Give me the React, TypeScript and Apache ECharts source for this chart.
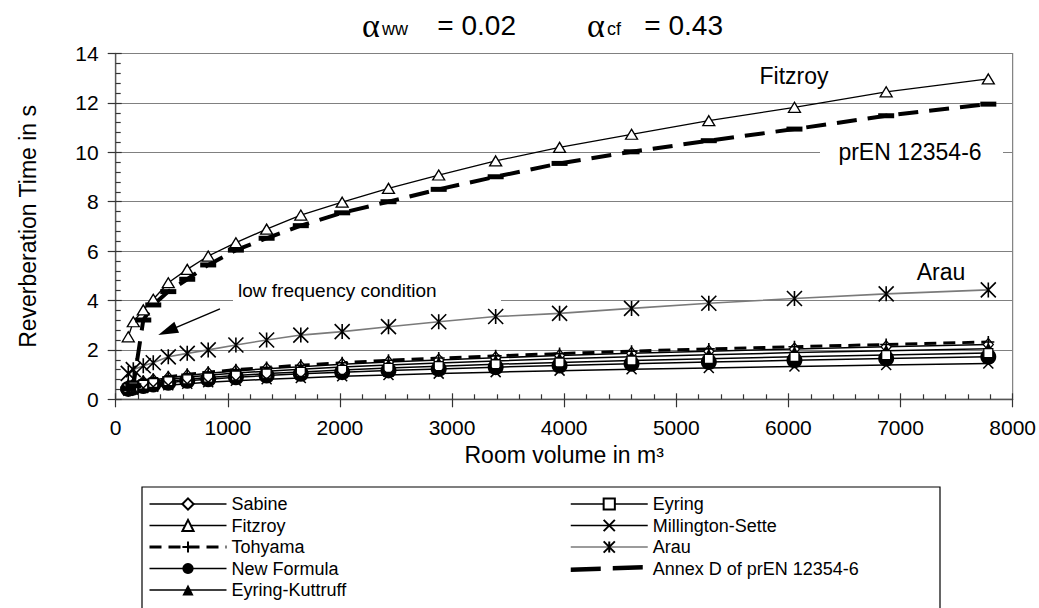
import React, { useEffect, useRef } from "react";
import * as echarts from "echarts";

const volumes = [112, 157, 246, 335, 469, 638, 825, 1072, 1346, 1651, 2020, 2433, 2881, 3389, 3959, 4601, 5290, 6054, 6872, 7783];
const sabine = [0.54, 0.6, 0.7, 0.78, 0.87, 0.96, 1.05, 1.15, 1.24, 1.32, 1.42, 1.51, 1.59, 1.68, 1.77, 1.86, 1.95, 2.04, 2.13, 2.22];
const fitzroy = [2.53, 3.14, 3.62, 4.05, 4.72, 5.26, 5.8, 6.34, 6.89, 7.46, 7.98, 8.54, 9.08, 9.65, 10.2, 10.73, 11.28, 11.82, 12.45, 12.97];
const tohyama = [0.56, 0.63, 0.73, 0.81, 0.91, 1.01, 1.1, 1.2, 1.29, 1.38, 1.48, 1.58, 1.67, 1.76, 1.85, 1.95, 2.04, 2.13, 2.22, 2.32];
const newFormula = [0.42, 0.47, 0.54, 0.6, 0.67, 0.75, 0.81, 0.89, 0.96, 1.03, 1.1, 1.17, 1.23, 1.3, 1.37, 1.44, 1.51, 1.58, 1.65, 1.72];
const eyringKuttruff = [0.5, 0.56, 0.65, 0.72, 0.8, 0.89, 0.97, 1.06, 1.14, 1.22, 1.31, 1.39, 1.47, 1.55, 1.64, 1.72, 1.8, 1.89, 1.97, 2.05];
const eyring = [0.45, 0.51, 0.59, 0.66, 0.73, 0.81, 0.88, 0.96, 1.04, 1.11, 1.19, 1.27, 1.34, 1.42, 1.49, 1.57, 1.64, 1.72, 1.79, 1.87];
const millingtonSette = [0.35, 0.39, 0.46, 0.51, 0.57, 0.63, 0.69, 0.75, 0.81, 0.86, 0.93, 0.98, 1.04, 1.1, 1.16, 1.22, 1.27, 1.33, 1.39, 1.45];
const arau = [1.05, 1.2, 1.36, 1.48, 1.72, 1.86, 2.0, 2.2, 2.4, 2.6, 2.74, 2.94, 3.14, 3.35, 3.48, 3.68, 3.89, 4.08, 4.27, 4.43];
const annexD = [0.42, 0.55, 3.21, 3.82, 4.36, 4.86, 5.44, 6.04, 6.52, 7.03, 7.55, 8.0, 8.5, 9.01, 9.55, 10.02, 10.47, 10.94, 11.48, 11.95];

const legendLeft = ["Sabine", "Fitzroy", "Tohyama", "New Formula", "Eyring-Kuttruff"];
const legendRight = ["Eyring", "Millington-Sette", "Arau", "Annex D of prEN 12354-6"];

const FONT = "'Liberation Sans', Arial, Helvetica, sans-serif";

const pairs = (ys: number[]) => volumes.map((v, i) => [v, ys[i]]);

const PLUS = "path://M5,0L5,10M0,5L10,5";
const CROSS = "path://M0,0L10,10M10,0L0,10";
const STAR = "path://M5,0L5,10M0,0L10,10M10,0L0,10";
const DASH_ICON = "path://M0,0M77,14M0,6L30,5L30,9.5L0,10.5ZM42,4.5L72,3.5L72,8L42,9Z";

export default function App() {
  const ref = useRef<HTMLDivElement>(null);
  useEffect(() => {
    document.body.style.margin = "0";
    if (!ref.current) return;
    const chart = echarts.init(ref.current, null, { renderer: "svg" });
    const black = "#000";
    const openStyle = { color: "#fff", borderColor: black, borderWidth: 1.3 };
    const solidLine = { color: black, width: 1.5, type: "solid" };
    const base = { type: "line", xAxisIndex: 0, yAxisIndex: 0, showSymbol: true, emphasis: { disabled: true }, silent: true };
    const series: any[] = [
      { ...base, name: "Sabine", data: pairs(sabine), symbol: "diamond", symbolSize: [10, 12], itemStyle: openStyle, lineStyle: solidLine },
      { ...base, name: "Fitzroy", data: pairs(fitzroy), symbol: "triangle", symbolSize: [12, 10], itemStyle: openStyle, lineStyle: { ...solidLine, width: 1.3 } },
      { ...base, name: "Tohyama", data: pairs(tohyama), symbol: PLUS, symbolSize: 12, itemStyle: { color: black, borderColor: black, borderWidth: 1.6 }, lineStyle: { color: black, width: 3, type: [12, 7] } },
      { ...base, name: "New Formula", data: pairs(newFormula), symbol: "circle", symbolSize: 16, itemStyle: { color: black }, lineStyle: solidLine },
      { ...base, name: "Eyring-Kuttruff", data: pairs(eyringKuttruff), symbol: "triangle", symbolSize: [14, 12], itemStyle: { color: black }, lineStyle: solidLine },
      { ...base, name: "Eyring", data: pairs(eyring), symbol: "rect", symbolSize: 9, itemStyle: openStyle, lineStyle: solidLine },
      { ...base, name: "Millington-Sette", data: pairs(millingtonSette), symbol: CROSS, symbolSize: 10, itemStyle: { color: black, borderColor: black, borderWidth: 1.5 }, lineStyle: solidLine },
      {
        ...base, name: "Arau", data: pairs(arau), symbol: STAR, symbolSize: 15,
        itemStyle: { color: black, borderColor: black, borderWidth: 1.6 }, lineStyle: { color: "#7a7a7a", width: 1.6 },
        markLine: {
          silent: true, symbol: ["none", "triangle"], symbolSize: [12, 20], label: { show: false },
          lineStyle: { color: black, width: 1.5, type: "solid" },
          emphasis: { disabled: true },
          data: [[{ coord: [930, 3.66] }, { coord: [462, 2.76] }]],
        },
      },
      { ...base, name: "Annex D of prEN 12354-6", data: pairs(annexD), symbol: "rect", symbolSize: [16, 5], itemStyle: { color: black }, lineStyle: { color: black, width: 4, type: [20, 11] } },
    ];

    const tickLine = { color: "#333", width: 1.2 };
    const legendCommon = {
      orient: "vertical", top: 495, height: 200, padding: 0, itemWidth: 77, itemHeight: 14, itemGap: 3.5,
      selectedMode: false,
      lineStyle: { width: 1.5 },
      textStyle: { fontSize: 18, fontFamily: FONT, color: black },
    };
    const legendItem = (n: string) => {
      if (n === "Tohyama") return { name: n, lineStyle: { width: 3 } };
      if (n.startsWith("Annex")) return { name: n, icon: DASH_ICON };
      return { name: n };
    };

    const option: any = {
      animation: false,
      backgroundColor: "#fff",
      textStyle: { fontFamily: FONT, color: black },
      grid: { left: 115.7, right: 25.7, top: 53.5, bottom: 208.7, show: true, borderColor: "#808080", borderWidth: 1.2, backgroundColor: "transparent" },
      xAxis: [
        {
          type: "value", min: 0, max: 8000, interval: 1000, position: "bottom",
          name: "Room volume in m³", nameLocation: "middle", nameGap: 31,
          nameTextStyle: { fontSize: 23, color: black, fontFamily: FONT },
          axisLine: { show: true, lineStyle: { color: "#555", width: 1.3 } },
          axisTick: { show: true, inside: false, length: 8, lineStyle: tickLine },
          axisLabel: { fontSize: 21, color: black, margin: 18, fontFamily: FONT, formatter: (v: number) => String(v) },
          splitLine: { show: false },
        },
        {
          type: "value", min: 0, max: 8000, interval: 1000, position: "bottom",
          axisLine: { show: false }, axisLabel: { show: false }, splitLine: { show: false },
          axisTick: { show: true, inside: true, length: 6, lineStyle: tickLine },
          minorTick: { show: true, splitNumber: 5, length: 5, lineStyle: tickLine },
        },
      ],
      yAxis: [
        {
          type: "value", min: 0, max: 14, interval: 2, position: "left",
          name: "Reverberation Time in s", nameLocation: "middle", nameGap: 76,
          nameTextStyle: { fontSize: 23, color: black, fontFamily: FONT },
          axisLine: { show: true, lineStyle: { color: "#555", width: 1.3 } },
          axisTick: { show: true, inside: false, length: 8, lineStyle: tickLine },
          axisLabel: { fontSize: 21, color: black, margin: 17, fontFamily: FONT },
          splitLine: { show: true, lineStyle: { color: "#808080", width: 1.2 } },
        },
        {
          type: "value", min: 0, max: 14, interval: 2, position: "left",
          axisLine: { show: false }, axisLabel: { show: false }, splitLine: { show: false },
          axisTick: { show: true, inside: true, length: 6, lineStyle: tickLine },
          minorTick: { show: true, splitNumber: 5, length: 5, lineStyle: tickLine },
        },
      ],
      legend: [
        { ...legendCommon, left: 148, data: legendLeft.map(legendItem) },
        { ...legendCommon, left: 570, data: legendRight.map(legendItem) },
      ],
      graphic: [
        { type: "rect", z: 1, shape: { x: 142, y: 487, width: 798, height: 140 }, style: { fill: "none", stroke: black, lineWidth: 1.2 } },
        { type: "rect", z: 1, shape: { x: 233, y: 281, width: 268, height: 22 }, style: { fill: "#fff" } },
        { type: "rect", z: 1, shape: { x: 820, y: 142, width: 183, height: 20 }, style: { fill: "#fff" } },
        { type: "text", z: 10, x: 238, y: 290, style: { text: "low frequency condition", font: `19px ${FONT}`, fill: black, textAlign: "left", textVerticalAlign: "middle" } },
        { type: "text", z: 10, x: 910, y: 152, style: { text: "prEN 12354-6", font: `23px ${FONT}`, fill: black, textAlign: "center", textVerticalAlign: "middle" } },
        { type: "text", z: 10, x: 794, y: 76, style: { text: "Fitzroy", font: `23px ${FONT}`, fill: black, textAlign: "center", textVerticalAlign: "middle" } },
        { type: "text", z: 10, x: 941, y: 272, style: { text: "Arau", font: `23px ${FONT}`, fill: black, textAlign: "center", textVerticalAlign: "middle" } },
        { type: "text", z: 10, x: 362, y: 25, style: { text: "α", font: `34px 'Liberation Serif', serif`, fill: black, textAlign: "left", textVerticalAlign: "middle" } },
        { type: "text", z: 10, x: 382, y: 29, style: { text: "ww", font: `18px ${FONT}`, fill: black, textAlign: "left", textVerticalAlign: "middle" } },
        { type: "text", z: 10, x: 516, y: 25, style: { text: "= 0.02", font: `28px ${FONT}`, fill: black, textAlign: "right", textVerticalAlign: "middle" } },
        { type: "text", z: 10, x: 587, y: 25, style: { text: "α", font: `34px 'Liberation Serif', serif`, fill: black, textAlign: "left", textVerticalAlign: "middle" } },
        { type: "text", z: 10, x: 607, y: 29, style: { text: "cf", font: `18px ${FONT}`, fill: black, textAlign: "left", textVerticalAlign: "middle" } },
        { type: "text", z: 10, x: 723, y: 25, style: { text: "= 0.43", font: `28px ${FONT}`, fill: black, textAlign: "right", textVerticalAlign: "middle" } },
      ],
      series,
    };
    chart.setOption(option);
    return () => chart.dispose();
  }, []);
  return <div ref={ref} style={{ width: 1039, height: 608 }} />;
}
